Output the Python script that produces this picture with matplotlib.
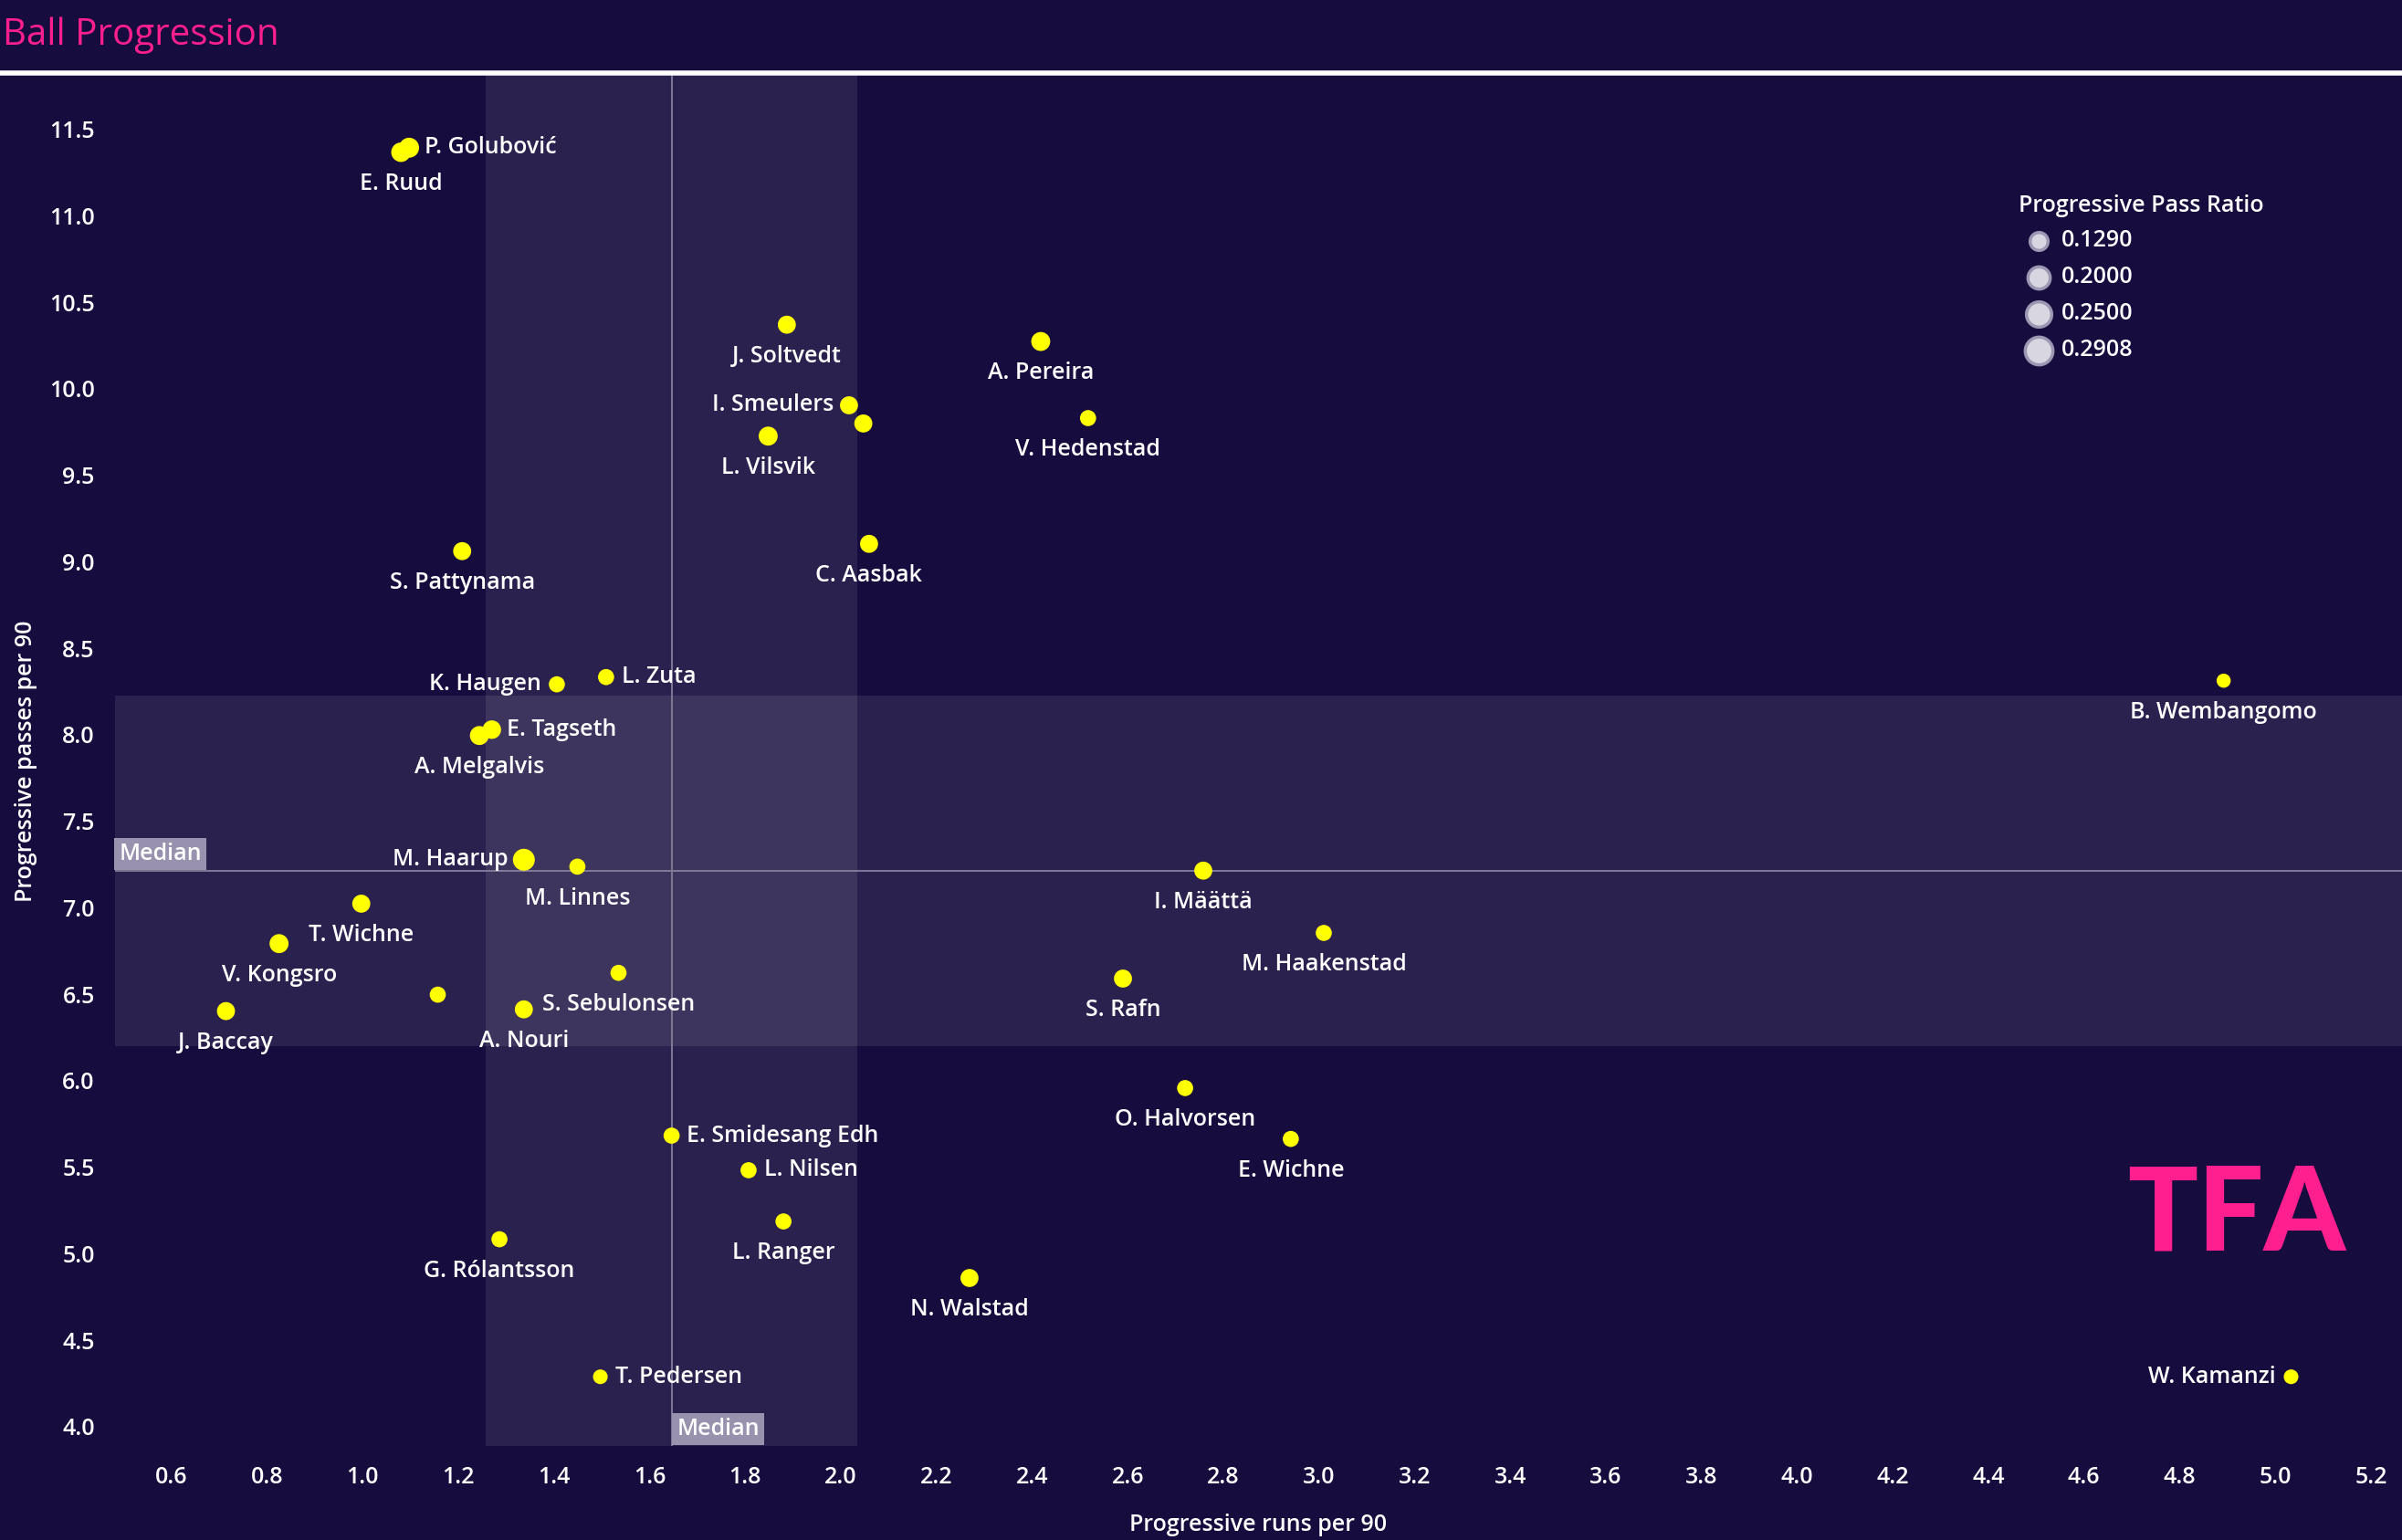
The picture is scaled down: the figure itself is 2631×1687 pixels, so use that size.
import numpy as np
import matplotlib
matplotlib.use('Agg')
import matplotlib.pyplot as plt

# progressive runs / passes per 90 and progressive pass ratio
players = ['P. Golubović', 'E. Ruud', 'J. Soltvedt', 'A. Pereira', 'I. Smeulers', '',
           'V. Hedenstad', 'L. Vilsvik', 'C. Aasbak', 'S. Pattynama', 'K. Haugen', 'L. Zuta',
           'E. Tagseth', 'A. Melgalvis', 'B. Wembangomo', 'M. Haarup', 'M. Linnes', 'I. Määttä',
           'T. Wichne', 'V. Kongsro', 'M. Haakenstad', 'S. Sebulonsen', 'S. Rafn', '',
           'J. Baccay', 'A. Nouri', 'O. Halvorsen', 'E. Smidesang Edh', 'E. Wichne', 'L. Nilsen',
           'L. Ranger', 'G. Rólantsson', 'N. Walstad', 'T. Pedersen', 'W. Kamanzi']
runs = [1.097, 1.080, 1.887, 2.418, 2.017, 2.047,
        2.517, 1.848, 2.059, 1.208, 1.406, 1.509,
        1.270, 1.244, 4.892, 1.337, 1.449, 2.758,
        0.997, 0.825, 3.010, 1.535, 2.590, 1.157,
        0.714, 1.337, 2.720, 1.646, 2.941, 1.807,
        1.880, 1.286, 2.269, 1.497, 5.033]
passes = [11.394, 11.368, 10.371, 10.274, 9.905, 9.800,
          9.831, 9.727, 9.104, 9.062, 8.292, 8.334,
          8.030, 7.996, 8.313, 7.278, 7.238, 7.215,
          7.024, 6.793, 6.855, 6.624, 6.591, 6.498,
          6.403, 6.413, 5.958, 5.683, 5.664, 5.483,
          5.187, 5.084, 4.860, 4.289, 4.289]
ratio = [0.25, 0.24, 0.21, 0.23, 0.21, 0.21,
         0.17, 0.23, 0.21, 0.21, 0.17, 0.17,
         0.22, 0.23, 0.129, 0.2908, 0.17, 0.21,
         0.21, 0.23, 0.17, 0.17, 0.21, 0.17,
         0.21, 0.21, 0.17, 0.17, 0.17, 0.17,
         0.17, 0.17, 0.21, 0.14, 0.14]
# where the name goes: b=below, r=right, l=left
label_pos = ['r', 'b', 'b', 'b', 'l', 'b',
             'b', 'b', 'b', 'b', 'l', 'r',
             'r', 'b', 'b', 'l', 'b', 'b',
             'b', 'b', 'b', 'b', 'b', 'b',
             'b', 'b', 'b', 'r', 'b', 'r',
             'b', 'b', 'b', 'r', 'l']

legend_vals = [0.1290, 0.2000, 0.2500, 0.2908]
x_band = (1.2575, 2.0345)
y_band = (6.202, 8.227)

BG = '#170c3e'
PINK = '#ff1f8e'
FONT = ['Open Sans', 'DejaVu Sans']
plt.rcParams['font.family'] = FONT
FS = 18
FW = 600

W, H = 2631, 1687


def msize(r):
    # ratio -> marker area in pt^2
    d_px = 15.5 + (np.asarray(r) - 0.129) / (0.2908 - 0.129) * 8.5
    return (d_px * 0.72) ** 2


fig = plt.figure(figsize=(W / 100, H / 100), dpi=100, facecolor=BG)
ax = fig.add_axes([126 / W, 1 - 1584 / H, 1 - 126 / W, (1584 - 83) / H])
ax.set_facecolor(BG)
ax.set_xlim(0.482, 5.265)
ax.set_ylim(3.889, 11.81)

ax.axvspan(*x_band, color='white', alpha=0.09, lw=0, zorder=0)
ax.axhspan(*y_band, color='white', alpha=0.09, lw=0, zorder=0)

med_x = np.median(runs)
med_y = np.median(passes)
ax.axvline(med_x, color='#7f7a98', lw=1.4, zorder=1)
ax.axhline(med_y, color='#7f7a98', lw=1.4, zorder=1)

ax.scatter(runs, passes, s=msize(ratio), color='#ffff00', lw=0, zorder=3)

offs = {'b': ((0, -25), 'center'), 'r': ((12, 0), 'left'), 'l': ((-12, 0), 'right')}
for name, x, y, p in zip(players, runs, passes, label_pos):
    if not name:
        continue
    (dx, dy), ha = offs[p]
    ax.annotate(name, (x, y), xytext=(dx, dy), textcoords='offset points',
                ha=ha, va='center', color='white', fontsize=FS, fontweight=FW,
                zorder=4)

# median tags
ax.annotate('Median', (0, med_y), xycoords=('axes fraction', 'data'),
            xytext=(3, 4), textcoords='offset points', ha='left', va='bottom',
            color='white', fontsize=FS, fontweight=FW,
            bbox=dict(boxstyle='square,pad=0.2', fc='#9892ae', ec='none'))
ax.annotate('Median', (med_x, 0), xycoords=('data', 'axes fraction'),
            xytext=(4, 4), textcoords='offset points', ha='left', va='bottom',
            color='white', fontsize=FS, fontweight=FW,
            bbox=dict(boxstyle='square,pad=0.2', fc='#9892ae', ec='none'))

ax.set_xticks(np.arange(0.6, 5.21, 0.2))
ax.set_yticks(np.arange(4.0, 11.51, 0.5))
ax.xaxis.set_major_formatter(matplotlib.ticker.FormatStrFormatter('%.1f'))
ax.yaxis.set_major_formatter(matplotlib.ticker.FormatStrFormatter('%.1f'))
ax.tick_params(length=0, colors='white', labelsize=FS, pad=16)
for t in ax.get_xticklabels() + ax.get_yticklabels():
    t.set_fontweight(FW)
for s in ax.spines.values():
    s.set_visible(False)

ax.set_xlabel('Progressive runs per 90', color='white', fontsize=FS,
              fontweight=FW, labelpad=19)
ax.set_ylabel('Progressive passes per 90', color='white', fontsize=FS,
              fontweight=FW, labelpad=9)

# title and rule
fig.text(3 / W, 1 - 39 / H, 'Ball Progression', color=PINK, fontsize=29,
         ha='left', va='center')
fig.add_artist(plt.Line2D([0, 1], [1 - 80 / H, 1 - 80 / H], color='white', lw=4))

# size legend
fig.text(2211 / W, 1 - 225 / H, 'Progressive Pass Ratio', color='white', fontsize=FS,
         fontweight=FW, ha='left', va='center')
for i, v in enumerate(legend_vals):
    yy = 1 - (264 + 40 * i) / H
    ax.scatter([2233 / W], [yy], s=msize(v) * 1.6, transform=fig.transFigure,
               color='#d8d6e0', edgecolor='#9c97b2', lw=2.5, clip_on=False, zorder=5)
    fig.text(2258 / W, yy, '%.4f' % v, color='white', fontsize=FS,
             fontweight=FW, ha='left', va='center')

# logo
fig.text(2450 / W, 1 - 1332 / H, 'TFA', color=PINK, fontsize=92, fontweight='black',
         family=['Lato', 'DejaVu Sans'], ha='center', va='center')

fig.savefig('out.png', dpi=100, facecolor=BG)
